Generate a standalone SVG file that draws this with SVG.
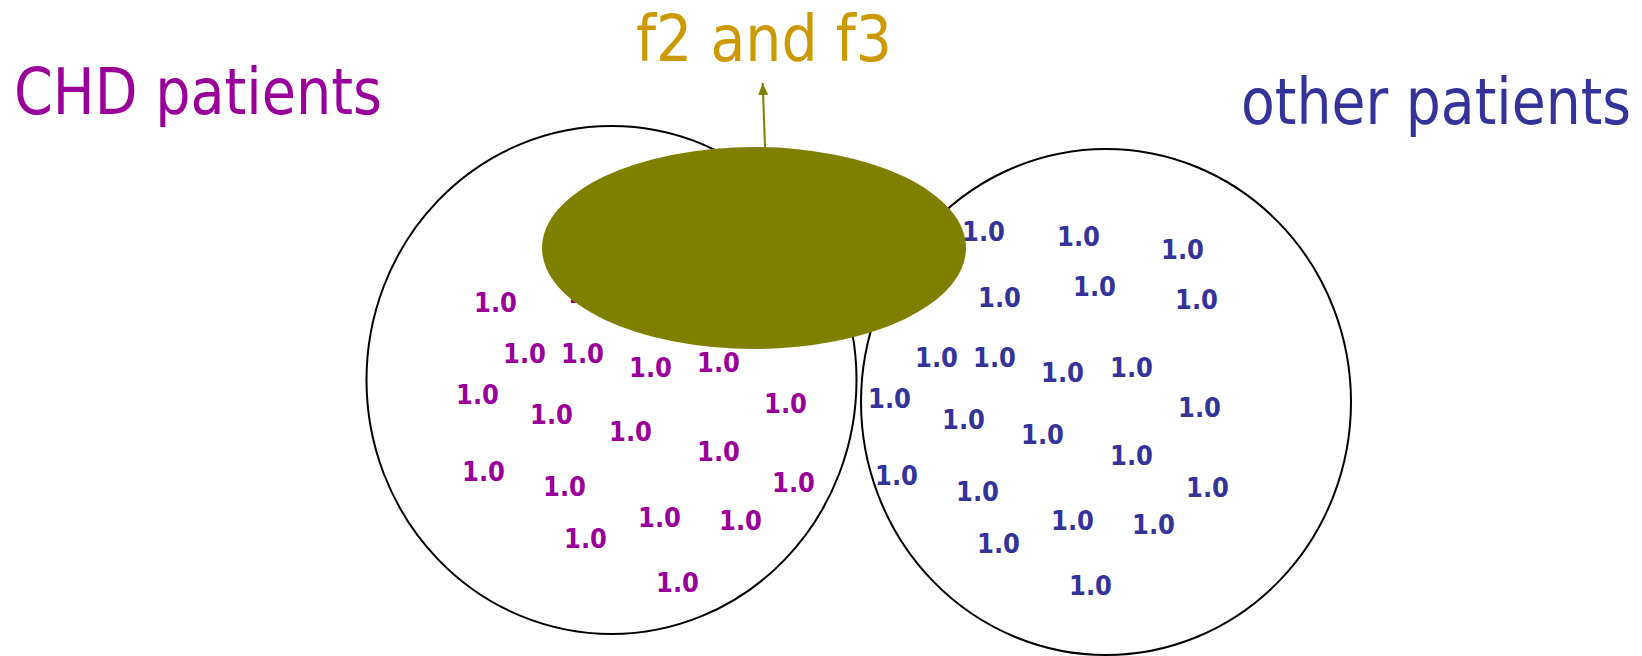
<svg xmlns="http://www.w3.org/2000/svg" width="1642" height="656" viewBox="0 0 1642 656">
<style>
.title{font-family:"DejaVu Sans Condensed","DejaVu Sans",sans-serif;font-size:64px}
.title2{font-family:"DejaVu Sans",sans-serif;font-size:64px}
.v{font-family:"DejaVu Sans","Liberation Sans",sans-serif;font-weight:bold;font-size:26px}
.p{fill:#990099}
.b{fill:#333399}
.ring{fill:#ffffff;stroke:#000000;stroke-width:2}
</style>
<defs>
<marker id="ah" markerWidth="12" markerHeight="10" refX="12" refY="5" orient="auto" markerUnits="userSpaceOnUse" viewBox="0 0 12 10">
<path d="M0 0 L12 5 L0 10 Z" fill="#808000"/>
</marker>
</defs>
<rect width="1642" height="656" fill="#ffffff"/>
<g id="chd-set">
<ellipse class="ring" cx="611.5" cy="380" rx="245" ry="254"/>
<g class="v p">
<text x="474" y="312" textLength="43" lengthAdjust="spacingAndGlyphs">1.0</text>
<text x="568" y="303" textLength="43" lengthAdjust="spacingAndGlyphs">1.0</text>
<text x="503" y="363" textLength="43" lengthAdjust="spacingAndGlyphs">1.0</text>
<text x="561" y="363" textLength="43" lengthAdjust="spacingAndGlyphs">1.0</text>
<text x="629" y="377" textLength="43" lengthAdjust="spacingAndGlyphs">1.0</text>
<text x="697" y="372" textLength="43" lengthAdjust="spacingAndGlyphs">1.0</text>
<text x="456" y="404" textLength="43" lengthAdjust="spacingAndGlyphs">1.0</text>
<text x="530" y="424" textLength="43" lengthAdjust="spacingAndGlyphs">1.0</text>
<text x="609" y="441" textLength="43" lengthAdjust="spacingAndGlyphs">1.0</text>
<text x="764" y="413" textLength="43" lengthAdjust="spacingAndGlyphs">1.0</text>
<text x="697" y="461" textLength="43" lengthAdjust="spacingAndGlyphs">1.0</text>
<text x="462" y="481" textLength="43" lengthAdjust="spacingAndGlyphs">1.0</text>
<text x="543" y="496" textLength="43" lengthAdjust="spacingAndGlyphs">1.0</text>
<text x="772" y="492" textLength="43" lengthAdjust="spacingAndGlyphs">1.0</text>
<text x="638" y="527" textLength="43" lengthAdjust="spacingAndGlyphs">1.0</text>
<text x="719" y="530" textLength="43" lengthAdjust="spacingAndGlyphs">1.0</text>
<text x="564" y="548" textLength="43" lengthAdjust="spacingAndGlyphs">1.0</text>
<text x="656" y="592" textLength="43" lengthAdjust="spacingAndGlyphs">1.0</text>
</g>
</g>
<g id="other-set">
<ellipse class="ring" cx="1106" cy="402" rx="245" ry="253"/>
<g class="v b">
<text x="962" y="241" textLength="43" lengthAdjust="spacingAndGlyphs">1.0</text>
<text x="1057" y="246" textLength="43" lengthAdjust="spacingAndGlyphs">1.0</text>
<text x="1161" y="259" textLength="43" lengthAdjust="spacingAndGlyphs">1.0</text>
<text x="978" y="307" textLength="43" lengthAdjust="spacingAndGlyphs">1.0</text>
<text x="1073" y="296" textLength="43" lengthAdjust="spacingAndGlyphs">1.0</text>
<text x="1175" y="309" textLength="43" lengthAdjust="spacingAndGlyphs">1.0</text>
<text x="915" y="367" textLength="43" lengthAdjust="spacingAndGlyphs">1.0</text>
<text x="973" y="367" textLength="43" lengthAdjust="spacingAndGlyphs">1.0</text>
<text x="1041" y="382" textLength="43" lengthAdjust="spacingAndGlyphs">1.0</text>
<text x="1110" y="377" textLength="43" lengthAdjust="spacingAndGlyphs">1.0</text>
<text x="868" y="408" textLength="43" lengthAdjust="spacingAndGlyphs">1.0</text>
<text x="942" y="429" textLength="43" lengthAdjust="spacingAndGlyphs">1.0</text>
<text x="1021" y="444" textLength="43" lengthAdjust="spacingAndGlyphs">1.0</text>
<text x="1178" y="417" textLength="43" lengthAdjust="spacingAndGlyphs">1.0</text>
<text x="1110" y="465" textLength="43" lengthAdjust="spacingAndGlyphs">1.0</text>
<text x="875" y="485" textLength="43" lengthAdjust="spacingAndGlyphs">1.0</text>
<text x="956" y="501" textLength="43" lengthAdjust="spacingAndGlyphs">1.0</text>
<text x="1186" y="497" textLength="43" lengthAdjust="spacingAndGlyphs">1.0</text>
<text x="1051" y="530" textLength="43" lengthAdjust="spacingAndGlyphs">1.0</text>
<text x="1132" y="534" textLength="43" lengthAdjust="spacingAndGlyphs">1.0</text>
<text x="977" y="553" textLength="43" lengthAdjust="spacingAndGlyphs">1.0</text>
<text x="1069" y="595" textLength="43" lengthAdjust="spacingAndGlyphs">1.0</text>
</g>
</g>
<g id="f2-f3-region">
<ellipse cx="754" cy="248" rx="212" ry="101" fill="#808000"/>
</g>
<g id="connectors">
<line x1="765" y1="147" x2="762.7" y2="83" stroke="#808000" stroke-width="2" marker-end="url(#ah)"/>
</g>
<g id="labels">
<text id="chd-label" class="title p" x="14" y="114" textLength="368" lengthAdjust="spacingAndGlyphs">CHD patients</text>
<text id="f2f3-label" class="title" x="636" y="61" fill="#CC9900" textLength="256" lengthAdjust="spacingAndGlyphs">f2 and f3</text>
<text id="other-label" class="title2 b" transform="translate(1241,124) scale(0.865,1)" x="0" y="0" textLength="451" lengthAdjust="spacingAndGlyphs">other patients</text>
</g>
</svg>
